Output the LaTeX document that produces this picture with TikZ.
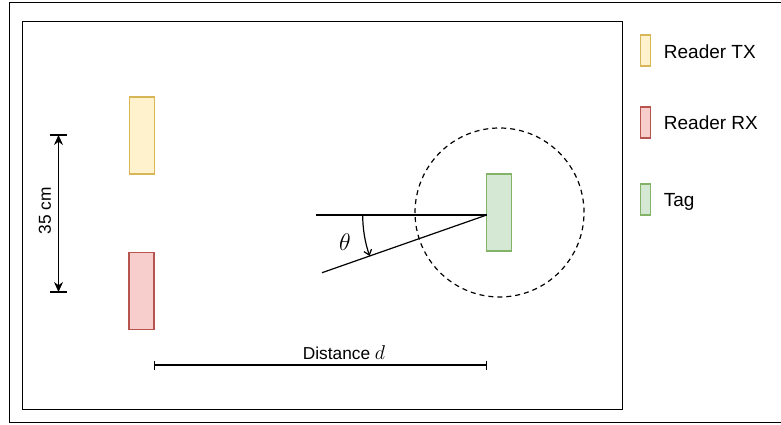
\documentclass[tikz,border=0pt]{standalone}
\usepackage{fix-cm}
\usepackage{fontspec}
\setmainfont{Liberation Sans}
\usetikzlibrary{arrows.meta}
\definecolor{txfill}{HTML}{FFF2CC}
\definecolor{txdraw}{HTML}{D6B656}
\definecolor{rxfill}{HTML}{F8CECC}
\definecolor{rxdraw}{HTML}{B85450}
\definecolor{tagfill}{HTML}{D5E8D4}
\definecolor{tagdraw}{HTML}{82B366}
\tikzset{
  antbox/.style={draw, line width=1.1pt, inner sep=0pt, minimum width=25pt, minimum height=77pt},
  legbox/.style={draw, line width=1.1pt, inner sep=0pt, minimum width=10.5pt, minimum height=31pt},
  legtext/.style={anchor=base west, inner sep=0pt, font=\fontsize{19}{21}\selectfont},
  lbl/.style={inner sep=0pt, font=\fontsize{17.3}{20}\selectfont},
  frame/.style={draw, line width=1.2pt},
}
\begin{document}
\begin{tikzpicture}[x=1pt,y=-1pt,line width=1.2pt]
\useasboundingbox (0,0) rectangle (781,425);
\clip (0,0) rectangle (781,425);
% frames
\node[frame, inner sep=0pt, minimum width=781pt, minimum height=420pt, anchor=north west] (outer) at (9,2) {};
\node[frame, inner sep=0pt, minimum width=600.2pt, minimum height=388.3pt, anchor=north west] (inner) at (21.5,20.7) {};
% reader antennas
\node[antbox, fill=txfill, draw=txdraw] (tx) at (142.3,135.5) {};
\node[antbox, fill=rxfill, draw=rxdraw] (rx) at (141.5,291.3) {};
% tag and rotation circle
\node[circle, draw, dash pattern=on 5pt off 4pt, line width=1.2pt, minimum size=169pt, inner sep=0pt] (circ) at (499.5,212.5) {};
\node[antbox, fill=tagfill, draw=tagdraw] (tag) at (499,212.5) {};
% angle lines
\coordinate (apex) at (486.7,215);
\coordinate (hl) at (316,215);
\coordinate (sl) at (322,272.7);
\draw (hl) -- (apex);
\draw (sl) -- (apex);
\draw[-{Straight Barb[length=5pt,width=8pt]}] (apex) ++(180:124) arc[start angle=180,end angle=160.7,radius=124];
\node[inner sep=0pt] (theta) at (345,242) {\fontsize{24}{24}\selectfont$\theta$};
% 35 cm dimension
\coordinate (dt) at (58.5,135);
\coordinate (db) at (58.5,292);
\draw[{Stealth[length=10pt,width=9pt]}-{Stealth[length=10pt,width=9pt]}] (dt) -- (db);
\draw (dt) ++(-8.5,0) -- ++(17,0);
\draw (db) ++(-8.5,0) -- ++(17,0);
\node[lbl, rotate=90] (dim) at (45,211) {35 cm};
% distance
\coordinate (dl) at (154,365);
\coordinate (dr) at (487.3,365);
\draw[{Bar[width=9pt]}-{Bar[width=9pt]}] (dl) -- (dr);
\node[lbl] (dist) at (344,352.5) {Distance {\fontsize{20}{20}\selectfont$d$}};
% legend
\node[legbox, fill=txfill, draw=txdraw] (ltx) at (645.5,50.5) {};
\node[legtext] (ttx) at (663.3,58.3) {Reader TX};
\node[legbox, fill=rxfill, draw=rxdraw] (lrx) at (645.5,122.5) {};
\node[legtext] (trx) at (663.3,129.5) {Reader RX};
\node[legbox, fill=tagfill, draw=tagdraw] (ltag) at (645.5,199.5) {};
\node[legtext] (ttag) at (663.3,206.7) {Tag};
\end{tikzpicture}
\end{document}
